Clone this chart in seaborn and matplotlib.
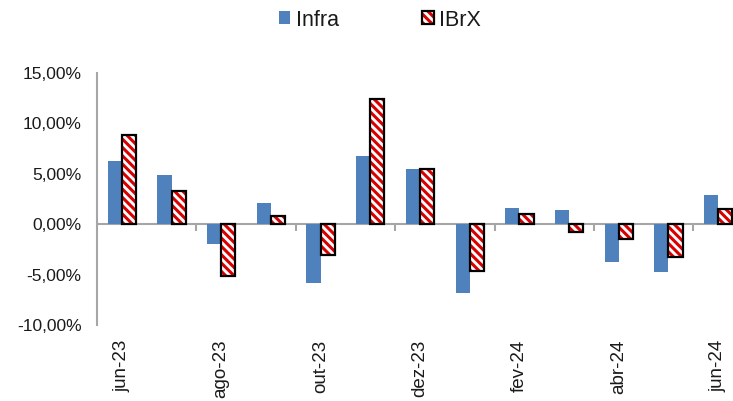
import matplotlib
matplotlib.use("Agg")
import matplotlib.pyplot as plt
from matplotlib.patches import Rectangle, Patch
from matplotlib.legend_handler import HandlerTuple
from matplotlib.ticker import FuncFormatter
import seaborn as sns
import pandas as pd

meses = ["jun-23", "jul-23", "ago-23", "set-23", "out-23", "nov-23", "dez-23",
         "jan-24", "fev-24", "mar-24", "abr-24", "mai-24", "jun-24"]
infra = [6.29, 4.90, -1.99, 2.08, -5.80, 6.78, 5.49, -6.85, 1.65, 1.42, -3.71, -4.74, 2.88]
ibrx = [8.87, 3.34, -5.10, 0.86, -3.08, 12.44, 5.52, -4.60, 0.99, -0.80, -1.43, -3.21, 1.52]
series = ["Infra", "IBrX"]
yticks = [-10, -5, 0, 5, 10, 15]

df = pd.DataFrame({"mes": meses, "Infra": infra, "IBrX": ibrx})
long = df.melt(id_vars="mes", value_vars=series, var_name="serie", value_name="valor")

sns.set_style("white")
plt.rcParams["font.family"] = ["Liberation Sans", "DejaVu Sans"]
plt.rcParams["hatch.linewidth"] = 2.2

BLUE = "#4F81BD"
RED = "#D80000"
GRAY = "#A6A6A6"
TXT = "#1A1A1A"
HATCH = "\\" * 4

fig = plt.figure(figsize=(7.33, 4.01), dpi=100)
ax = fig.add_axes([97 / 733, 76 / 401, (743 - 97) / 733, 252 / 401])

sns.barplot(data=long, x="mes", y="valor", hue="serie", hue_order=series,
            palette={"Infra": BLUE, "IBrX": "white"}, width=0.57, gap=0,
            saturation=1, errorbar=None, legend=False, ax=ax)

for p in ax.containers[0]:
    p.set_linewidth(0)
for p in ax.containers[1]:
    p.set_facecolor("white")
    p.set_edgecolor(RED)
    p.set_hatch(HATCH)
    p.set_linewidth(0)
    ax.add_patch(Rectangle((p.get_x(), p.get_y()), p.get_width(), p.get_height(),
                           fill=False, edgecolor="black", linewidth=1.6, zorder=3))

ax.set_xlim(-0.5, len(meses) - 0.5)
ax.set_ylim(yticks[0], yticks[-1])
ax.set_yticks(yticks)
ax.yaxis.set_major_formatter(FuncFormatter(lambda v, _: f"{v:.2f}%".replace(".", ",")))
ax.set_xticks(range(0, len(meses), 2))
ax.set_xticklabels(meses[::2], rotation=90)
ax.set_xlabel("")
ax.set_ylabel("")

for s in ["top", "right", "bottom"]:
    ax.spines[s].set_visible(False)
ax.spines["left"].set_color(GRAY)
ax.spines["left"].set_linewidth(1.5)
ax.tick_params(axis="y", length=5, width=1.5, color=GRAY, labelsize=12.5, labelcolor=TXT, pad=6)
ax.tick_params(axis="x", length=0, labelsize=13.5, labelcolor=TXT, pad=10.5)

# zero line with category boundary ticks
zero_frac = (0 - yticks[0]) / (yticks[-1] - yticks[0])
sec = ax.secondary_xaxis(zero_frac)
sec.set_xticks([i + 1.5 for i in range(0, len(meses) - 1, 2)])
sec.tick_params(axis="x", length=5, width=1.5, color=GRAY, labelbottom=False, labeltop=False,
                direction="out")
for s in sec.spines.values():
    s.set_visible(False)
sec.spines["bottom"].set_visible(True)
sec.spines["bottom"].set_color(GRAY)
sec.spines["bottom"].set_linewidth(1.5)

h_infra = Patch(facecolor=BLUE, edgecolor="none")
h_ibrx = (Patch(facecolor="white", edgecolor=RED, hatch=HATCH, linewidth=0),
          Patch(fill=False, edgecolor="black", linewidth=1.6))
fig.legend([h_infra, h_ibrx], series, loc="center", bbox_to_anchor=(0.518, 0.95),
           ncol=2, frameon=False, fontsize=15.5, handlelength=0.55, handleheight=0.55,
           handletextpad=0.25, columnspacing=3.85,
           handler_map={tuple: HandlerTuple(ndivide=1)}, labelcolor=TXT)

fig.savefig("out.png", dpi=100)
